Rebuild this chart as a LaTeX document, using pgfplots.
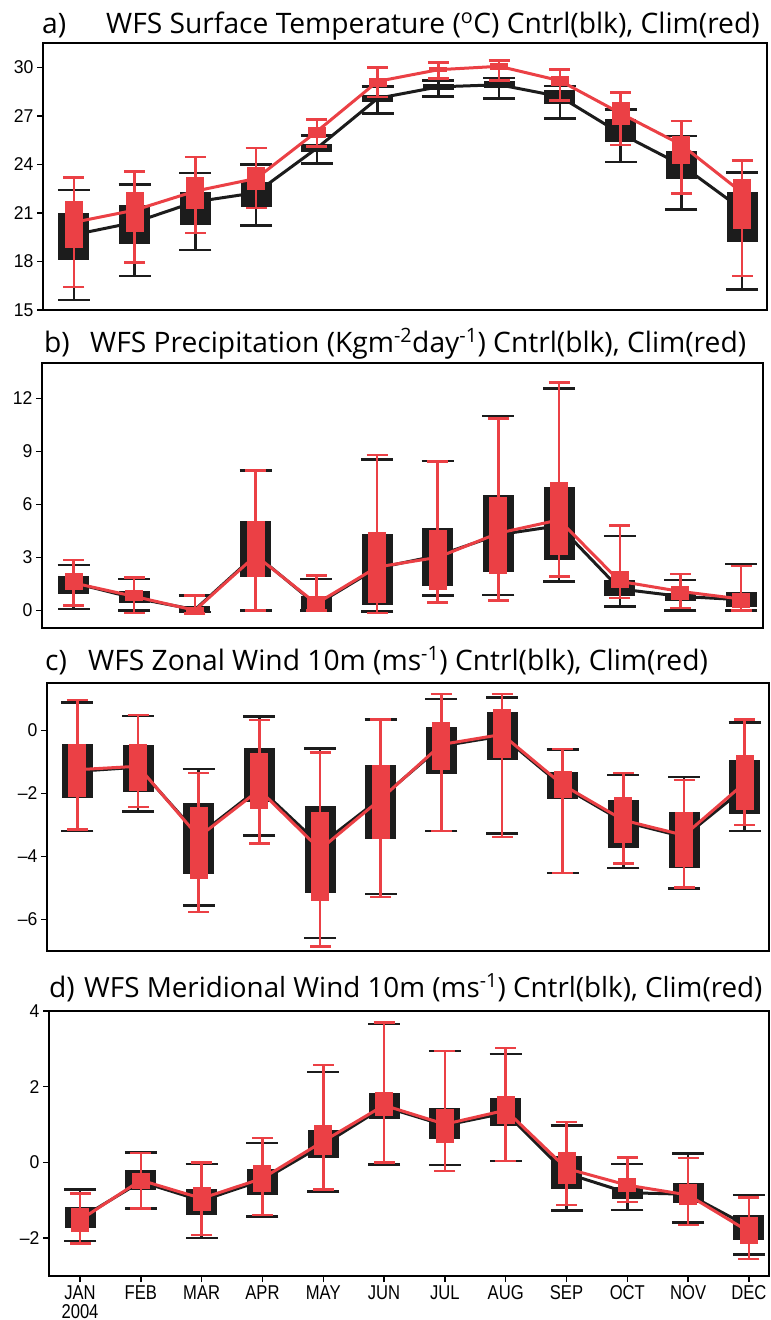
\documentclass[border=0pt]{standalone}
\usepackage{pgfplots}
\pgfplotsset{compat=1.18}
\usepackage{pgfplotstable}
\usepackage{fontspec}
\setmainfont{Liberation Sans}
\newfontfamily\titlefont{Open Sans}
\newfontfamily\tickfont[FakeStretch=0.95]{Liberation Sans}
\newfontfamily\monthfont[FakeStretch=0.83]{Liberation Sans}
\definecolor{myred}{RGB}{235,64,69}
\definecolor{myblk}{RGB}{28,28,28}

% columns: x mean boxlow boxhigh whiskerlow whiskerhigh
\pgfplotstableread{
x m bl bh wl wh
0 19.65 18.08 21.00 15.62 22.42
1 20.42 19.08 21.48 17.10 22.77
2 21.69 20.23 22.29 18.71 23.46
3 22.25 21.35 22.88 20.23 24.00
4 25.00 24.75 25.25 24.04 25.79
5 28.08 27.88 28.29 27.13 28.81
6 28.79 28.60 28.96 28.19 29.17
7 28.92 28.71 29.17 28.06 29.35
8 28.19 27.71 28.60 26.83 28.85
9 25.90 25.38 26.79 24.15 27.40
10 23.96 23.08 24.85 21.21 25.75
11 21.21 19.23 22.29 16.27 23.50
}\Ablk
\pgfplotstableread{
x m bl bh wl wh
0 20.42 18.81 21.73 16.42 23.19
1 21.17 19.85 22.29 17.94 23.56
2 22.35 21.25 23.25 19.75 24.46
3 23.13 22.42 23.81 21.31 25.00
4 26.04 25.63 26.31 25.10 26.77
5 29.13 28.81 29.33 28.15 30.00
6 29.85 29.69 30.00 29.31 30.31
7 30.06 29.85 30.27 29.19 30.42
8 29.17 28.85 29.44 27.96 29.85
9 27.15 26.46 27.88 25.21 28.44
10 25.21 24.00 25.75 22.21 26.69
11 22.25 20.00 23.08 17.10 24.23
}\Ared
\pgfplotstableread{
x m bl bh wl wh
0 1.55 0.94 1.92 0.08 2.58
1 0.70 0.41 1.07 -0.02 1.77
2 0.04 -0.06 0.23 -0.10 0.83
3 3.15 1.88 5.03 0.00 7.91
4 0.32 0.00 0.79 -0.02 1.77
5 2.39 0.32 4.31 -0.06 8.55
6 3.10 1.36 4.65 0.85 8.46
7 4.28 2.15 6.54 0.87 11.00
8 4.79 2.83 6.97 1.64 12.57
9 1.21 0.83 1.70 0.23 4.22
10 0.79 0.51 0.98 -0.02 1.73
11 0.60 0.19 1.02 0.00 2.62
}\Bblk
\pgfplotstableread{
x m bl bh wl wh
0 1.55 1.13 2.11 0.28 2.86
1 0.79 0.51 1.13 -0.15 1.87
2 0.00 -0.15 0.19 -0.19 0.83
3 3.10 1.88 5.03 0.00 7.91
4 0.38 0.08 0.83 0.00 1.96
5 2.45 0.41 4.46 -0.15 8.80
6 3.00 1.17 4.56 0.45 8.42
7 4.37 2.07 6.44 0.57 10.87
8 5.12 3.15 7.29 1.92 12.89
9 1.64 1.26 2.20 0.70 4.79
10 1.07 0.60 1.36 0.13 2.07
11 0.64 0.13 0.98 -0.02 2.52
}\Bred
\pgfplotstableread{
x m bl bh wl wh
0 -1.30 -2.15 -0.43 -3.20 0.88
1 -1.17 -1.97 -0.48 -2.58 0.46
2 -3.33 -4.57 -2.31 -5.56 -1.23
3 -1.83 -2.26 -0.55 -3.33 0.44
4 -3.64 -5.16 -2.40 -6.58 -0.58
5 -2.15 -3.45 -1.09 -5.19 0.35
6 -0.50 -1.39 0.12 -3.20 0.99
7 -0.18 -0.93 0.59 -3.27 1.04
8 -1.78 -2.18 -1.33 -4.52 -0.61
9 -2.90 -3.73 -2.21 -4.36 -1.41
10 -3.38 -4.37 -2.58 -5.01 -1.48
11 -1.83 -2.65 -0.93 -3.19 0.25
}\Cblk
\pgfplotstableread{
x m bl bh wl wh
0 -1.25 -2.10 -0.43 -3.14 0.96
1 -1.14 -1.94 -0.45 -2.44 0.48
2 -3.38 -4.73 -2.44 -5.76 -1.35
3 -1.89 -2.50 -0.71 -3.59 0.32
4 -3.78 -5.40 -2.58 -6.86 -0.71
5 -2.18 -3.46 -1.09 -5.28 0.35
6 -0.45 -1.25 0.27 -3.20 1.15
7 -0.13 -0.87 0.67 -3.38 1.15
8 -1.73 -2.15 -1.30 -4.52 -0.59
9 -2.85 -3.59 -2.10 -4.23 -1.35
10 -3.33 -4.34 -2.58 -4.98 -1.57
11 -1.67 -2.53 -0.77 -3.00 0.35
}\Cred
\pgfplotstableread{
x m bl bh wl wh
0 -1.48 -1.72 -1.17 -2.07 -0.71
1 -0.51 -0.73 -0.20 -1.21 0.26
2 -1.01 -1.39 -0.69 -2.00 -0.04
3 -0.47 -0.86 -0.16 -1.43 0.52
4 0.47 0.11 0.85 -0.77 2.39
5 1.47 1.16 1.84 -0.05 3.66
6 0.98 0.61 1.45 -0.07 2.94
7 1.31 0.96 1.69 0.04 2.86
8 -0.29 -0.70 0.17 -1.27 0.97
9 -0.80 -0.97 -0.64 -1.26 -0.04
10 -0.84 -1.08 -0.54 -1.58 0.24
11 -1.70 -2.05 -1.39 -2.43 -0.86
}\Dblk
\pgfplotstableread{
x m bl bh wl wh
0 -1.52 -1.83 -1.21 -2.14 -0.82
1 -0.47 -0.71 -0.29 -1.21 0.25
2 -0.95 -1.27 -0.64 -1.92 0.00
3 -0.42 -0.77 -0.07 -1.39 0.65
4 0.56 0.19 0.98 -0.71 2.57
5 1.51 1.22 1.86 0.00 3.69
6 1.01 0.52 1.40 -0.22 2.94
7 1.38 1.01 1.75 0.04 3.02
8 -0.16 -0.57 0.28 -1.12 1.07
9 -0.60 -0.77 -0.42 -1.04 0.13
10 -0.86 -1.12 -0.57 -1.65 0.12
11 -1.83 -2.15 -1.43 -2.55 -0.92
}\Dred

% #1 table, #2 colour, #3 box width, #4 half cap width
\newcommand{\series}[4]{%
\addplot[draw=none, mark=none, forget plot,
  error bars/.cd, y dir=both, y explicit,
  error bar style={line width=2.5pt, draw=#2},
  error mark=|, error mark options={line width=2.5pt, draw=#2, mark size=#4}]
  table[x=x, y=m, y error plus expr=\thisrow{wh}-\thisrow{m}, y error minus expr=\thisrow{m}-\thisrow{wl}] {#1};
\addplot[draw=none, mark=none, forget plot,
  error bars/.cd, y dir=both, y explicit,
  error bar style={line width=#3, draw=#2},
  error mark=|, error mark options={draw=none, mark size=0pt}]
  table[x=x, y=m, y error plus expr=\thisrow{bh}-\thisrow{m}, y error minus expr=\thisrow{m}-\thisrow{bl}] {#1};
\addplot[draw=#2, line width=3pt, mark=none, forget plot] table[x=x, y=m] {#1};
}

\pgfplotsset{
  panel/.style={
    scale only axis, anchor=north west,
    axis line style={line width=2.2pt, black},
    tick style={line width=1.5pt, black},
    major tick length=6pt, tick align=outside,
    ytick pos=left, xtick pos=bottom,
    /pgf/number format/assume math mode=true,
    yticklabel style={font=\tickfont\fontsize{18.5}{18}\selectfont},
    xticklabel style={font=\monthfont\fontsize{20}{19}\selectfont},
    xtick=\empty,
  },
}

\begin{document}
\begin{tikzpicture}
\begin{axis}[panel, at={(43pt,-43pt)}, width=724pt, height=267pt,
  xmin=-0.51, xmax=11.41, ymin=15, ymax=31.5, ytick={15,18,21,24,27,30}]
\series{\Ablk}{myblk}{31pt}{16pt}
\series{\Ared}{myred}{18pt}{10.5pt}
\end{axis}

\begin{axis}[panel, at={(42pt,-363pt)}, width=721pt, height=265pt,
  xmin=-0.52, xmax=11.36, ymin=-1, ymax=14, ytick={0,3,6,9,12}]
\series{\Bblk}{myblk}{31pt}{16pt}
\series{\Bred}{myred}{18pt}{10.5pt}
\end{axis}

\begin{axis}[panel, at={(47pt,-683pt)}, width=722pt, height=268pt,
  xmin=-0.5, xmax=11.4, ymin=-7, ymax=1.5, ytick={-6,-4,-2,0},
  yticklabels={–6,–4,–2,0}]
\series{\Cblk}{myblk}{31pt}{16pt}
\series{\Cred}{myred}{18pt}{10.5pt}
\end{axis}

\begin{axis}[panel, at={(49pt,-1011pt)}, width=720pt, height=265pt,
  xmin=-0.51, xmax=11.33, ymin=-3, ymax=4, ytick={-2,0,2,4},
  yticklabels={–2,0,2,4},
  xtick={0,1,2,3,4,5,6,7,8,9,10,11},
  xticklabels={{JAN\\2004},FEB,MAR,APR,MAY,JUN,JUL,AUG,SEP,OCT,NOV,DEC},
  xticklabel style={align=center, anchor=north}]
\series{\Dblk}{myblk}{31pt}{16pt}
\series{\Dred}{myred}{18pt}{10.5pt}
\end{axis}

\begin{scope}[every node/.style={anchor=base west, inner sep=0pt, font=\titlefont\fontsize{28.2}{32}\selectfont}]
\node at (42pt,-33pt) {a)};
\node at (106pt,-33pt) {WFS Surface Temperature (\textsuperscript{o}C) Cntrl(blk), Clim(red)};
\node at (44pt,-352pt) {b)};
\node at (90pt,-352pt) {WFS Precipitation (Kgm\textsuperscript{-2}day\textsuperscript{-1}) Cntrl(blk), Clim(red)};
\node at (45pt,-670pt) {c)};
\node at (88pt,-670pt) {WFS Zonal Wind 10m (ms\textsuperscript{-1}) Cntrl(blk), Clim(red)};
\node at (49pt,-997pt) {d)};
\node[font=\titlefont\fontsize{27.8}{32}\selectfont] at (84pt,-997pt) {WFS Meridional Wind 10m (ms\textsuperscript{-1}) Cntrl(blk), Clim(red)};
\end{scope}

\pgfresetboundingbox
\useasboundingbox (0,0) rectangle (771pt,-1320pt);
\end{tikzpicture}
\end{document}
